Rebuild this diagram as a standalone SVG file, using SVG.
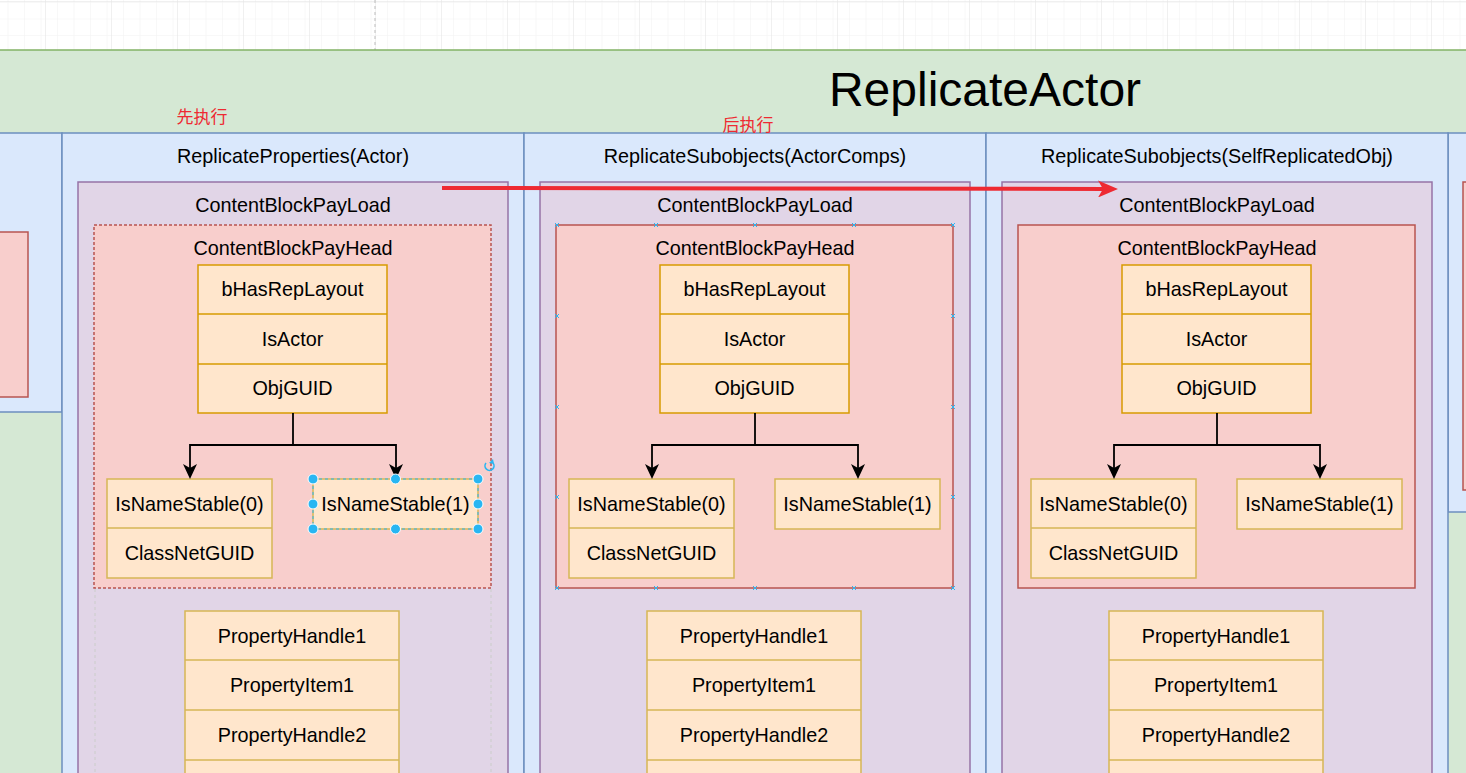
<svg xmlns="http://www.w3.org/2000/svg" width="1466" height="773" viewBox="0 0 1466 773">
<style>
text{font-family:"Liberation Sans","Noto Sans CJK SC",Arial,sans-serif;fill:#000;text-anchor:middle}
.t{font-size:19.8px}
.lane{fill:#dae8fc;stroke:#6c8ebf;stroke-width:1.5}
.pay{fill:#e1d5e7;stroke:#9673a6;stroke-width:1.5}
.head{fill:#f8cecc;stroke:#b85450;stroke-width:1.5}
.hdr{fill:#ffe6cc;stroke:#d79b00;stroke-width:1.5}
.fld{fill:#ffe6cc;stroke:#d6b656;stroke-width:1.5}
.sepo{stroke:#d79b00;stroke-width:1.5}
.sepy{stroke:#d6b656;stroke-width:1.5}
.conn{fill:none;stroke:#000;stroke-width:1.8}
.red{fill:#ee2a32;font-size:17px}
.hd{fill:#29b6f2;stroke:#fff;stroke-width:1}
.xm{stroke:#29b6f2;stroke-width:1}
.guide{stroke:#cfcfcf;stroke-width:1.2;stroke-dasharray:3 3;fill:none}
</style>
<defs>
<pattern id="minor" patternUnits="userSpaceOnUse" x="45" y="1" width="16.5" height="16.5">
<path d="M0 0V16.5M0 0H16.5" fill="none" stroke="#f2f2f2" stroke-width="1"/>
</pattern>
<pattern id="major" patternUnits="userSpaceOnUse" x="45" y="1" width="66" height="66">
<rect width="66" height="66" fill="url(#minor)"/>
<path d="M0 0V66M0 0H66" fill="none" stroke="#e2e2e2" stroke-width="1"/>
</pattern>
<marker id="arr" viewBox="0 0 15 14" refX="7" refY="7" markerWidth="15" markerHeight="14" markerUnits="userSpaceOnUse" orient="auto">
<path d="M0,0 L15,7 L0,14 L4,7 Z" fill="#000"/>
</marker>
<marker id="rarr" viewBox="0 0 20 17" refX="8" refY="8.5" markerWidth="20" markerHeight="17" markerUnits="userSpaceOnUse" orient="auto">
<path d="M0,0 L20,8.5 L0,17 L5,8.5 Z" fill="#ee2a32"/>
</marker>
</defs>

<rect x="0" y="0" width="1466" height="773" fill="#fff"/>
<rect x="0" y="0" width="1466" height="50" fill="url(#major)"/>
<line x1="375" y1="0" x2="375" y2="50" stroke="#bdbdbd" stroke-dasharray="3 3"/>

<g id="replicateActor">
<rect x="-10" y="50" width="1490" height="740" fill="#d5e8d4" stroke="#82b366" stroke-width="1.5"/>
<text x="985" y="106" style="font-size:48px">ReplicateActor</text>
</g>

<g id="laneLeft">
<rect class="lane" x="-10" y="133" width="72" height="279"/>
<rect class="head" x="-10" y="232" width="38" height="165"/>
</g>
<g id="laneRight">
<rect class="lane" x="1448" y="133" width="30" height="379"/>
<rect class="head" x="1463" y="182" width="20" height="308"/>
</g>

<g id="lane1">
<rect class="lane" x="62" y="133" width="462" height="700"/>
<text class="t" x="293" y="163">ReplicateProperties(Actor)</text>
</g>
<g id="payload1">
<rect class="pay" x="78" y="182" width="430" height="650"/>
<text class="t" x="293" y="212">ContentBlockPayLoad</text>
</g>
<g id="head1">
<rect class="head" x="94" y="225" width="397" height="363" stroke-dasharray="3 2"/>
<text class="t" x="293" y="255">ContentBlockPayHead</text>
</g>
<g id="hdr1">
<rect class="hdr" x="198" y="265" width="189" height="148"/>
<line class="sepo" x1="198" y1="314" x2="387" y2="314"/>
<line class="sepo" x1="198" y1="364" x2="387" y2="364"/>
<text class="t" x="292.5" y="296">bHasRepLayout</text>
<text class="t" x="292.5" y="346">IsActor</text>
<text class="t" x="292.5" y="395">ObjGUID</text>
</g>
<g id="ns0_1">
<rect class="fld" x="107" y="479" width="165" height="99"/>
<line class="sepy" x1="107" y1="528" x2="272" y2="528"/>
<text class="t" x="189.5" y="511">IsNameStable(0)</text>
<text class="t" x="189.5" y="560">ClassNetGUID</text>
</g>
<g id="ns1_1">
<rect class="fld" x="313" y="479" width="165" height="50"/>
<rect x="313" y="479" width="165" height="50" fill="none" stroke="#29b6f2" stroke-width="1" stroke-dasharray="3 3"/>
<text class="t" x="395.5" y="511">IsNameStable(1)</text>
</g>
<g id="prop1">
<rect class="fld" x="185" y="611" width="214" height="200"/>
<line class="sepy" x1="185" y1="660" x2="399" y2="660"/>
<line class="sepy" x1="185" y1="710" x2="399" y2="710"/>
<line class="sepy" x1="185" y1="760" x2="399" y2="760"/>
<text class="t" x="292" y="643">PropertyHandle1</text>
<text class="t" x="292" y="692">PropertyItem1</text>
<text class="t" x="292" y="742">PropertyHandle2</text>
</g>

<g id="lane2">
<rect class="lane" x="524" y="133" width="462" height="700"/>
<text class="t" x="755" y="163">ReplicateSubobjects(ActorComps)</text>
</g>
<g id="payload2">
<rect class="pay" x="540" y="182" width="430" height="650"/>
<text class="t" x="755" y="212">ContentBlockPayLoad</text>
</g>
<g id="head2">
<rect class="head" x="556" y="225" width="397" height="363"/>
<text class="t" x="755" y="255">ContentBlockPayHead</text>
</g>
<g id="hdr2">
<rect class="hdr" x="660" y="265" width="189" height="148"/>
<line class="sepo" x1="660" y1="314" x2="849" y2="314"/>
<line class="sepo" x1="660" y1="364" x2="849" y2="364"/>
<text class="t" x="754.5" y="296">bHasRepLayout</text>
<text class="t" x="754.5" y="346">IsActor</text>
<text class="t" x="754.5" y="395">ObjGUID</text>
</g>
<g id="ns0_2">
<rect class="fld" x="569" y="479" width="165" height="99"/>
<line class="sepy" x1="569" y1="528" x2="734" y2="528"/>
<text class="t" x="651.5" y="511">IsNameStable(0)</text>
<text class="t" x="651.5" y="560">ClassNetGUID</text>
</g>
<g id="ns1_2">
<rect class="fld" x="775" y="479" width="165" height="50"/>
<text class="t" x="857.5" y="511">IsNameStable(1)</text>
</g>
<g id="prop2">
<rect class="fld" x="647" y="611" width="214" height="200"/>
<line class="sepy" x1="647" y1="660" x2="861" y2="660"/>
<line class="sepy" x1="647" y1="710" x2="861" y2="710"/>
<line class="sepy" x1="647" y1="760" x2="861" y2="760"/>
<text class="t" x="754" y="643">PropertyHandle1</text>
<text class="t" x="754" y="692">PropertyItem1</text>
<text class="t" x="754" y="742">PropertyHandle2</text>
</g>

<g id="lane3">
<rect class="lane" x="986" y="133" width="462" height="700"/>
<text class="t" x="1217" y="163">ReplicateSubobjects(SelfReplicatedObj)</text>
</g>
<g id="payload3">
<rect class="pay" x="1002" y="182" width="430" height="650"/>
<text class="t" x="1217" y="212">ContentBlockPayLoad</text>
</g>
<g id="head3">
<rect class="head" x="1018" y="225" width="397" height="363"/>
<text class="t" x="1217" y="255">ContentBlockPayHead</text>
</g>
<g id="hdr3">
<rect class="hdr" x="1122" y="265" width="189" height="148"/>
<line class="sepo" x1="1122" y1="314" x2="1311" y2="314"/>
<line class="sepo" x1="1122" y1="364" x2="1311" y2="364"/>
<text class="t" x="1216.5" y="296">bHasRepLayout</text>
<text class="t" x="1216.5" y="346">IsActor</text>
<text class="t" x="1216.5" y="395">ObjGUID</text>
</g>
<g id="ns0_3">
<rect class="fld" x="1031" y="479" width="165" height="99"/>
<line class="sepy" x1="1031" y1="528" x2="1196" y2="528"/>
<text class="t" x="1113.5" y="511">IsNameStable(0)</text>
<text class="t" x="1113.5" y="560">ClassNetGUID</text>
</g>
<g id="ns1_3">
<rect class="fld" x="1237" y="479" width="165" height="50"/>
<text class="t" x="1319.5" y="511">IsNameStable(1)</text>
</g>
<g id="prop3">
<rect class="fld" x="1109" y="611" width="214" height="200"/>
<line class="sepy" x1="1109" y1="660" x2="1323" y2="660"/>
<line class="sepy" x1="1109" y1="710" x2="1323" y2="710"/>
<line class="sepy" x1="1109" y1="760" x2="1323" y2="760"/>
<text class="t" x="1216" y="643">PropertyHandle1</text>
<text class="t" x="1216" y="692">PropertyItem1</text>
<text class="t" x="1216" y="742">PropertyHandle2</text>
</g>

<g id="labels">
<text class="red" x="202" y="123">先执行</text>
<text class="red" x="748" y="131">后执行</text>
</g>

<g id="connectors">
<path class="conn" d="M293 413V445H190V471" marker-end="url(#arr)"/>
<path class="conn" d="M293 445H396V471" marker-end="url(#arr)"/>
<path class="conn" d="M755 413V445H652V471" marker-end="url(#arr)"/>
<path class="conn" d="M755 445H858V471" marker-end="url(#arr)"/>
<path class="conn" d="M1217 413V445H1114V471" marker-end="url(#arr)"/>
<path class="conn" d="M1217 445H1320V471" marker-end="url(#arr)"/>
<path d="M442 188L1106 189" fill="none" stroke="#ee2a32" stroke-width="4" marker-end="url(#rarr)"/>
</g>

<g id="selection">
<line class="guide" x1="95" y1="589" x2="95" y2="773"/>
<line class="guide" x1="491" y1="589" x2="491" y2="773"/>
<circle class="hd" cx="313" cy="479" r="5"/>
<circle class="hd" cx="395.5" cy="479" r="5"/>
<circle class="hd" cx="478" cy="479" r="5"/>
<circle class="hd" cx="313" cy="504" r="5"/>
<circle class="hd" cx="478" cy="504" r="5"/>
<circle class="hd" cx="313" cy="529" r="5"/>
<circle class="hd" cx="395.5" cy="529" r="5"/>
<circle class="hd" cx="478" cy="529" r="5"/>
<path d="M493 463A4.5 4.5 0 1 1 486 463" fill="none" stroke="#29b6f2" stroke-width="1.6"/>
<path d="M493 459L494 464L489 463Z" fill="#29b6f2"/>
</g>

<g id="dropMarks">
<path class="xm" d="M555 223l4 4m0-4l-4 4M654 223l4 4m0-4l-4 4M753 223l4 4m0-4l-4 4M852 223l4 4m0-4l-4 4M951 223l4 4m0-4l-4 4
M555 586l4 4m0-4l-4 4M654 586l4 4m0-4l-4 4M753 586l4 4m0-4l-4 4M852 586l4 4m0-4l-4 4M951 586l4 4m0-4l-4 4
M555 314l4 4m0-4l-4 4M555 405l4 4m0-4l-4 4M555 495l4 4m0-4l-4 4
M951 314l4 4m0-4l-4 4M951 405l4 4m0-4l-4 4M951 495l4 4m0-4l-4 4"/>
</g>
</svg>
